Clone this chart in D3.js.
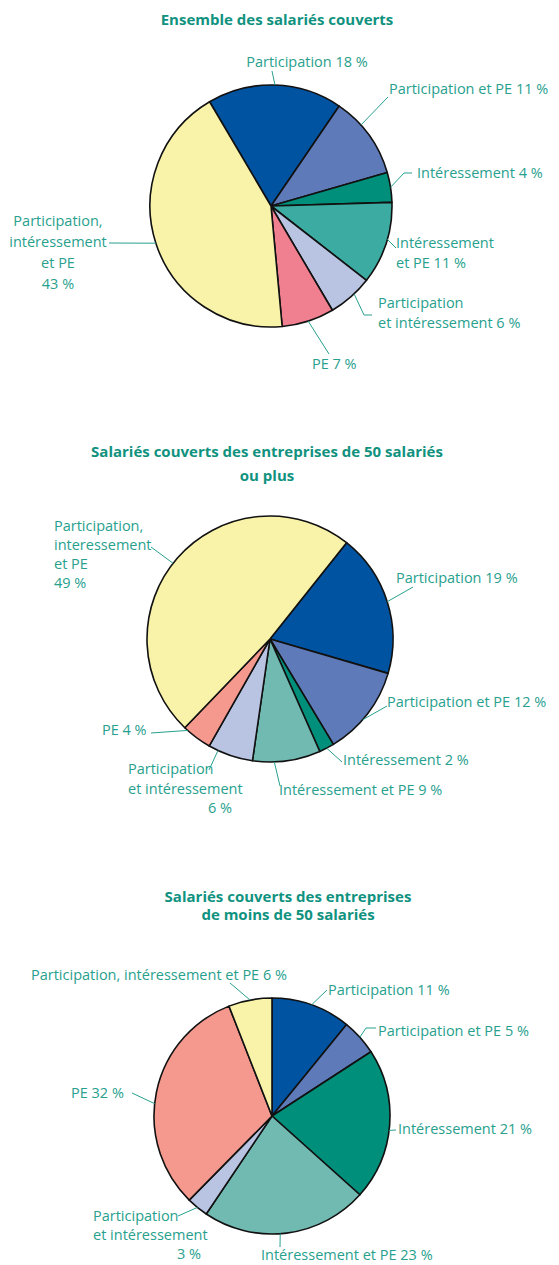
<!DOCTYPE html>
<html><head><meta charset="utf-8">
<script src="https://cdn.jsdelivr.net/npm/d3@7/dist/d3.min.js"></script>
<style>body{margin:0;background:#fff}svg{display:block}</style>
</head><body>
<svg id="chart" width="559" height="1265"></svg>
<script>
// ---------- DATA ----------
const categories = ["Participation","Participation et PE","Intéressement","Intéressement et PE","Participation et intéressement","PE","Participation, intéressement et PE"];
const values1 = [18, 11, 4, 11, 6, 7, 43];
const values2 = [19, 12, 2, 9, 6, 4, 49];
const values3 = [11, 5, 21, 23, 3, 32, 6];
const titles1 = ["Ensemble des salariés couverts"];
const titles2 = ["Salariés couverts des entreprises de 50 salariés", "ou plus"];
const titles3 = ["Salariés couverts des entreprises", "de moins de 50 salariés"];
const labels1 = [["Participation 18 %"],["Participation et PE 11 %"],["Intéressement 4 %"],["Intéressement","et PE 11 %"],["Participation","et intéressement 6 %"],["PE 7 %"],["Participation,","intéressement","et PE","43 %"]];
const labels2 = [["Participation 19 %"],["Participation et PE 12 %"],["Intéressement 2 %"],["Intéressement et PE 9 %"],["Participation","et intéressement","6 %"],["PE 4 %"],["Participation,","interessement","et PE","49 %"]];
const labels3 = [["Participation 11 %"],["Participation et PE 5 %"],["Intéressement 21 %"],["Intéressement et PE 23 %"],["Participation","et intéressement","3 %"],["PE 32 %"],["Participation, intéressement et PE 6 %"]];

// ---------- STYLE / LAYOUT ----------
const colors1 = ["#0053a1","#5e7ab8","#008f7a","#3caba1","#b9c3e2","#f07f8f","#f9f3aa"];
const colors23 = ["#0053a1","#5e7ab8","#008f7a","#71bab2","#b9c3e2","#f5998f","#f9f3aa"];
const TXT = "#28a08e", TITLE = "#10927f";
const FONT = "'Open Sans', 'Noto Sans', sans-serif";
const LABEL_SIZE = 14.5, TITLE_SIZE = 15;

const layouts = [
  {cx:271, cy:206, r:121, start:-30.5, titleX:277, titleY:25, titleDy:0, colors:colors1,
   lab:[
    {x:307,y:67,a:"middle",lines:[[0,0]],lead:[[272,71]]},
    {x:389,y:94,a:"start",ang:48,lines:[[0,0]],lead:[[388,97]]},
    {x:417,y:178,a:"start",lines:[[0,0]],lead:[[404,173],[412,173]]},
    {x:396,y:248,a:"start",ang:106,lines:[[0,0],[0,20]],lead:[[396,248]]},
    {x:378,y:308,a:"start",ang:136.6,lines:[[0,0],[0,20]],lead:[[364,315],[372,315]]},
    {x:312,y:369,a:"start",lines:[[0,0]],lead:[[329,354]]},
    {x:58,y:226,a:"middle",lines:[[0,0],[0,21],[0,42],[0,63]],lead:[[109,243]]}
   ]},
  {cx:270, cy:639, r:123, start:38.5, titleX:267, titleY:457, titleDy:24, colors:colors23,
   lab:[
    {x:396,y:583,a:"start",lines:[[0,0]],lead:[[413,587]]},
    {x:387,y:707,a:"start",ang:131,lines:[[0,0]],lead:[[387,706]]},
    {x:343,y:765,a:"start",lines:[[0,0]],lead:[[342,762]]},
    {x:279,y:795,a:"start",ang:178,lines:[[0,0]],lead:[[280,786]]},
    {x:128,y:774,a:"start",ang:205,lines:[[0,0],[0,20],[80,39]],lead:[[209,770]]},
    {x:102,y:735,a:"start",ang:222,lines:[[0,0]],lead:[[151,733]]},
    {x:54,y:531,a:"start",ang:308,lines:[[0,0],[0,19],[0,38],[0,57]],lead:[[151,547]]}
   ]},
  {cx:272, cy:1116, r:118, start:0, titleX:288, titleY:902, titleDy:18, colors:colors23,
   lab:[
    {x:328,y:995,a:"start",lines:[[0,0]],lead:[[327,990]]},
    {x:378,y:1036,a:"start",lines:[[0,0]],lead:[[366,1028],[376,1028]]},
    {x:398,y:1134,a:"start",ang:97,lines:[[0,0]],lead:[[396,1130]]},
    {x:261,y:1260,a:"start",ang:176,lines:[[0,0]],lead:[[280,1247]]},
    {x:93,y:1221,a:"start",lines:[[0,0],[0,19],[84,38]],lead:[[178,1216]]},
    {x:71,y:1098,a:"start",ang:276,lines:[[0,0]],lead:[[132,1093]]},
    {x:31,y:980,a:"start",lines:[[0,0]],lead:[[230,983]]}
   ]}
];
const allValues = [values1, values2, values3];
const allTitles = [titles1, titles2, titles3];
const allLabels = [labels1, labels2, labels3];

const svg = d3.select("#chart");
const rad = d => d * Math.PI / 180;

layouts.forEach((L, i) => {
  const data = allValues[i].map((v, k) => ({cat: categories[k], value: v, k}));
  const pie = d3.pie().sort(null).value(d => d.value)
    .startAngle(rad(L.start)).endAngle(rad(L.start) + 2 * Math.PI);
  const arcs = pie(data);
  const arc = d3.arc().innerRadius(0).outerRadius(L.r);
  const g = svg.append("g").attr("transform", `translate(${L.cx},${L.cy})`);

  g.selectAll("path").data(arcs).join("path")
    .attr("d", arc)
    .attr("fill", d => L.colors[d.data.k])
    .attr("stroke", "#111")
    .attr("stroke-width", 1.6)
    .attr("stroke-linejoin", "round");

  // title
  const t = svg.append("text").attr("x", L.titleX).attr("y", L.titleY)
    .attr("text-anchor", "middle").attr("font-family", FONT)
    .attr("font-weight", 700).attr("font-size", TITLE_SIZE).attr("fill", TITLE);
  allTitles[i].forEach((s, j) => t.append("tspan").attr("x", L.titleX)
    .attr("y", L.titleY + j * L.titleDy).text(s));

  // labels + leader lines
  arcs.forEach((a, k) => {
    const lb = L.lab[k];
    const ang = lb.ang !== undefined ? rad(lb.ang) : (a.startAngle + a.endAngle) / 2;
    const p0 = [L.cx + L.r * Math.sin(ang), L.cy - L.r * Math.cos(ang)];
    const pts = [p0].concat(lb.lead);
    svg.append("path").attr("d", d3.line()(pts))
      .attr("fill", "none").attr("stroke", TXT).attr("stroke-width", 1);
    const txt = svg.append("text").attr("font-family", FONT)
      .attr("font-size", LABEL_SIZE).attr("fill", TXT).attr("text-anchor", lb.a);
    allLabels[i][k].forEach((s, j) => {
      const o = lb.lines[j] || [0, j * 20];
      txt.append("tspan").attr("x", lb.x + o[0]).attr("y", lb.y + o[1]).text(s);
    });
  });
});
</script>
</body></html>
